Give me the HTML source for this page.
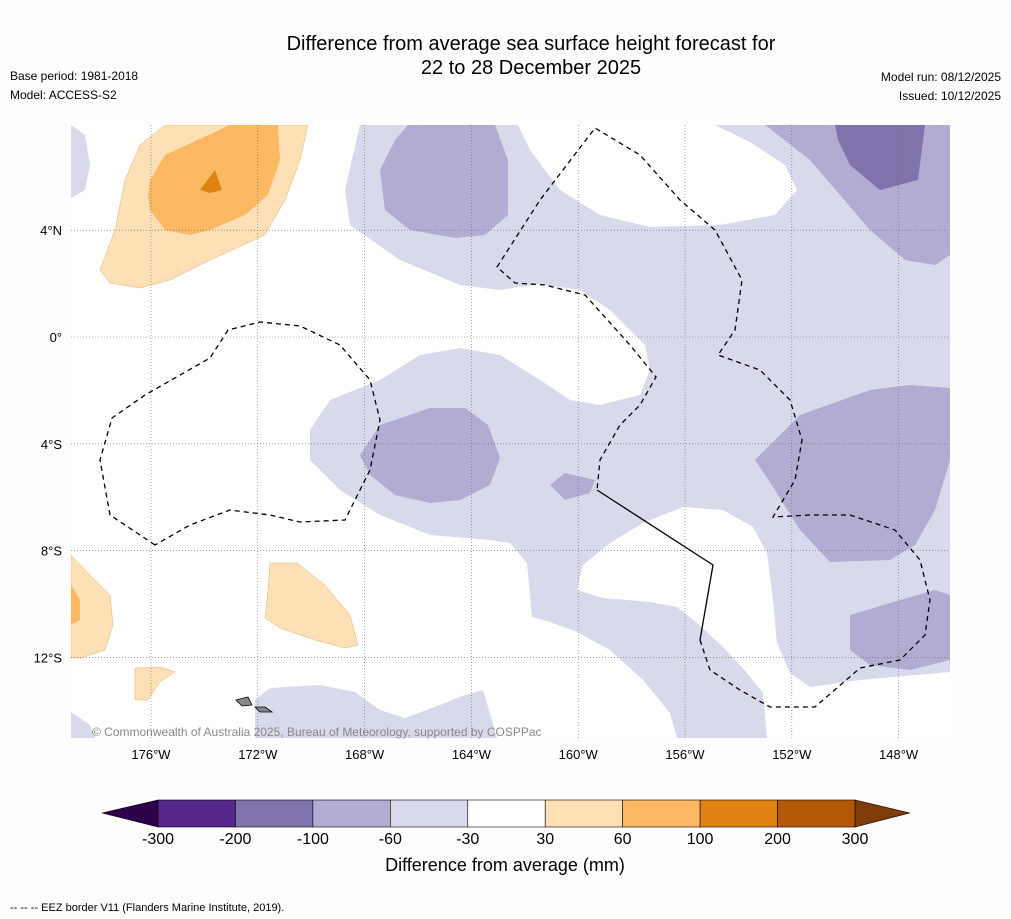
<!DOCTYPE html>
<html><head><meta charset="utf-8"><style>
body{margin:0;background:#fff;font-family:"Liberation Sans","DejaVu Sans",sans-serif;}
svg{display:block}
</style></head><body>
<svg id="chart" width="1011" height="919" xmlns="http://www.w3.org/2000/svg" font-family="Liberation Sans, DejaVu Sans, sans-serif">
<rect width="1011" height="919" fill="#fefefe"/>
<text x="531" y="50" font-size="20" text-anchor="middle">Difference from average sea surface height forecast for</text>
<text x="531" y="74" font-size="20" text-anchor="middle">22 to 28 December 2025</text>
<text x="10" y="80" font-size="12">Base period: 1981-2018</text>
<text x="10" y="99" font-size="12">Model: ACCESS-S2</text>
<text x="1001" y="81" font-size="12" text-anchor="end">Model run: 08/12/2025</text>
<text x="1001" y="100" font-size="12" text-anchor="end">Issued: 10/12/2025</text>
<defs><clipPath id="mc"><rect x="71" y="125" width="879" height="613"/></clipPath></defs>
<g id="map" clip-path="url(#mc)">
<rect x="71" y="125" width="879" height="613" fill="#fff"/>
<path fill="#d8daeb" d="M360,125 L950,125 L950,738 L677,738 L670,713 L643,680 L610,650 L577,632 L550,622 L532,617 L527,563 L510,543 L490,540 L430,535 L380,515 L340,490 L310,460 L310,430 L330,400 L380,380 L420,355 L460,348 L500,355 L540,380 L570,400 L600,405 L640,395 L650,370 L645,345 L610,310 L580,290 L540,284 L500,290 L460,285 L400,260 L350,225 L345,190 Z"/>
<path fill="#fff" d="M518,125 L715,125 L750,142 L785,165 L797,190 L775,215 L720,225 L650,227 L600,215 L560,190 L530,150 Z"/>
<path fill="#fff" d="M577,590 L583,565 L610,543 L643,523 L683,507 L723,510 L753,527 L767,553 L773,600 L777,643 L790,673 L810,687 L860,680 L950,672 L950,738 L767,738 L763,693 L747,673 L723,647 L697,623 L677,607 L650,602 L603,598 Z"/>
<path fill="#d8daeb" d="M71,125 L85,135 L90,165 L85,190 L71,198 Z"/>
<path fill="#d8daeb" d="M71,712 L90,725 L95,738 L71,738 Z"/>
<path fill="#d8daeb" d="M255,700 L270,688 L320,685 L355,692 L380,710 L405,718 L440,705 L465,695 L483,690 L497,738 L255,738 Z"/>
<g fill="#b2abd2">
<path d="M408,125 L495,125 L508,160 L508,215 L485,235 L455,238 L410,230 L385,210 L380,170 L395,140 Z"/>
<path d="M765,125 L950,125 L950,255 L935,265 L905,260 L870,230 L840,195 L810,160 Z"/>
<path d="M360,455 L380,425 L430,408 L465,408 L488,425 L500,458 L490,485 L460,500 L430,503 L395,495 L370,475 Z"/>
<path d="M550,485 L565,473 L595,480 L590,493 L565,500 Z"/>
<path d="M755,460 L800,415 L870,390 L910,385 L950,388 L950,460 L935,510 L915,545 L890,560 L830,562 L800,530 L775,490 Z"/>
<path d="M850,615 L900,600 L935,590 L950,595 L950,660 L910,670 L870,665 L850,650 Z"/>
</g>
<path fill="#8073ac" d="M835,125 L925,125 L918,180 L880,190 L850,165 L838,140 Z"/>
<g fill="#fee0b6" stroke="#e8b070" stroke-width="0.5">
<path d="M100,270 L115,230 L125,180 L140,145 L165,125 L308,125 L300,160 L285,200 L265,235 L210,260 L170,280 L140,288 L110,283 Z"/>
<path d="M71,555 L90,575 L110,595 L113,625 L105,650 L80,658 L71,658 Z"/>
<path d="M270,563 L297,563 L325,585 L350,615 L358,645 L345,648 L315,640 L280,628 L265,618 L268,590 Z"/>
<path d="M135,668 L160,667 L175,672 L160,682 L148,700 L135,700 Z"/>
</g>
<g fill="#fdb863">
<path d="M150,180 L165,155 L230,125 L278,125 L280,160 L268,195 L245,215 L210,230 L190,235 L165,230 L150,210 L148,195 Z"/>
<path d="M71,585 L80,600 L80,620 L71,625 Z"/>
</g>
<path fill="#e08214" d="M200,190 L215,170 L222,190 L210,193 Z"/>
<path fill="#888" stroke="#000" stroke-width="0.8" d="M236,700 L248,697 L252,705 L242,706 Z M255,707 L265,707 L272,712 L260,712 Z"/>
<g id="grid" stroke="#666" stroke-width="0.6" stroke-dasharray="1,2"></g>
<g fill="none" stroke="#000" stroke-width="1.3">
<path stroke-dasharray="5,4" d="M155,545 L110,515 L100,460 L112,418 L145,395 L210,358 L228,330 L260,322 L300,326 L340,345 L370,380 L380,420 L370,470 L345,520 L300,522 L270,515 L230,510 L190,525 Z"/>
<path stroke-dasharray="5,4" d="M700,640 L710,670 L740,690 L770,707 L815,707 L860,668 L900,660 L925,635 L930,600 L920,560 L895,530 L850,515 L810,515 L773,517 L795,480 L802,440 L790,400 L760,370 L718,355 L735,330 L742,280 L715,230 L680,200 L640,155 L595,128 L540,200 L497,267 L515,283 L545,285 L585,295 L630,345 L656,377 L640,405 L620,425 L600,460 L597,490"/>
<path d="M597,490 L713,565 L700,640"/>
</g>
</g>
<text x="92" y="736" font-size="12" fill="#888">© Commonwealth of Australia 2025, Bureau of Meteorology, supported by COSPPac</text>
<g id="axes"></g>
<g id="colorbar"></g>
<text x="505" y="871" font-size="18" text-anchor="middle">Difference from average (mm)</text>
<text x="10" y="911" font-size="11">--  --  -- EEZ border V11 (Flanders Marine Institute, 2019).</text>
</svg>
<script>
const lonTicks=[-176,-172,-168,-164,-160,-156,-152,-148];
const latTicks=[4,0,-4,-8,-12];
const levelLabels=["-300","-200","-100","-60","-30","30","60","100","200","300"];
const levelColors=["#542788","#8073ac","#b2abd2","#d8daeb","#ffffff","#fee0b6","#fdb863","#e08214","#b35806"];
const NS="http://www.w3.org/2000/svg";
const xLon=l=>151+(l+176)*26.7;
const yLat=l=>337-l*26.7;
function mk(t,a,p){const e=document.createElementNS(NS,t);for(const k in a)e.setAttribute(k,a[k]);p.appendChild(e);return e;}
const grid=document.getElementById('grid'),axes=document.getElementById('axes'),cb=document.getElementById('colorbar');
lonTicks.forEach(l=>{const x=xLon(l);
const g=mk('line',{x1:x,x2:x,y1:125,y2:738},grid);


const t=mk('text',{x:x,y:759,'font-size':13,'text-anchor':'middle'},axes);t.textContent=Math.abs(l)+'°W';

});
latTicks.forEach(l=>{const y=yLat(l);
const g=mk('line',{x1:71,x2:950,y1:y,y2:y},grid);


const t=mk('text',{x:62,y:y+5,'font-size':13,'text-anchor':'end'},axes);t.textContent=l===0?'0°':Math.abs(l)+'°'+(l>0?'N':'S');

});
const x0=158,x1=855,w=(x1-x0)/levelColors.length,yT=800,yB=827;
const lt=mk('polygon',{points:`102,813 ${x0},${yT} ${x0},${yB}`,fill:'#2d004b',stroke:'#000','stroke-width':0.6},cb);


const rt=mk('polygon',{points:`910,813 ${x1},${yT} ${x1},${yB}`,fill:'#7f3b08',stroke:'#000','stroke-width':0.6},cb);


levelColors.forEach((c,i)=>{const r=mk('rect',{x:x0+i*w,y:yT,width:w,height:yB-yT,fill:c,stroke:'#000','stroke-width':0.6},cb);

});
levelLabels.forEach((s,i)=>{const t=mk('text',{x:x0+i*w,y:844,'font-size':16,'text-anchor':'middle'},cb);t.textContent=s;

});
</script>
</body></html>
